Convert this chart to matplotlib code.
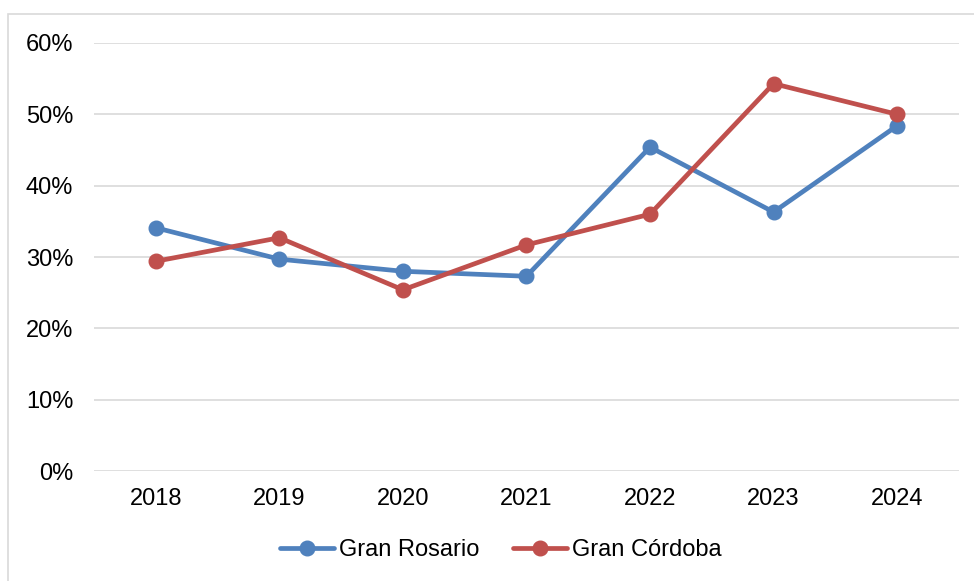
import matplotlib.pyplot as plt
from matplotlib.patches import Rectangle
from matplotlib.ticker import PercentFormatter

plt.rcParams['font.family'] = ['Liberation Sans', 'DejaVu Sans']

years = ['2018', '2019', '2020', '2021', '2022', '2023', '2024']
rosario = [0.341, 0.297, 0.280, 0.273, 0.454, 0.363, 0.484]
cordoba = [0.294, 0.327, 0.254, 0.317, 0.360, 0.543, 0.500]

blue = '#4F81BD'
red = '#C0504D'

fig = plt.figure(figsize=(9.74, 5.81), dpi=100)
ax = fig.add_axes([0.0965, 0.1893, 0.888, 0.7367])

# outer chart border (Excel style)
fig.patches.append(Rectangle((8 / 974, -0.01), 1.0, 1 - 14 / 581 + 0.01,
                             transform=fig.transFigure, fill=False,
                             edgecolor='#D9D9D9', lw=1.2))

x = list(range(len(years)))
ax.plot(x, rosario, color=blue, lw=3.4, marker='o', ms=10.5, label='Gran Rosario',
        solid_capstyle='round', zorder=3)
ax.plot(x, cordoba, color=red, lw=3.4, marker='o', ms=10.5, label='Gran Córdoba',
        solid_capstyle='round', zorder=3)

ax.set_xlim(-0.5, len(years) - 0.5)
ax.set_ylim(0, 0.6)
ax.set_yticks([0, 0.1, 0.2, 0.3, 0.4, 0.5, 0.6])
ax.yaxis.set_major_formatter(PercentFormatter(1.0, decimals=0))
ax.set_xticks(x)
ax.set_xticklabels(years)
ax.grid(axis='y', color='#D9D9D9', lw=1.2)
ax.set_axisbelow(True)
for s in ax.spines.values():
    s.set_visible(False)
ax.tick_params(axis='both', length=0, labelsize=17, colors='black')
ax.tick_params(axis='x', pad=12)
ax.tick_params(axis='y', pad=15)

fig.legend(loc='center', bbox_to_anchor=(0.514, 0.053), ncol=2, frameon=False,
           fontsize=17, handlelength=2.3, columnspacing=1.4, handletextpad=0.2)

fig.savefig('out.png', dpi=100)
